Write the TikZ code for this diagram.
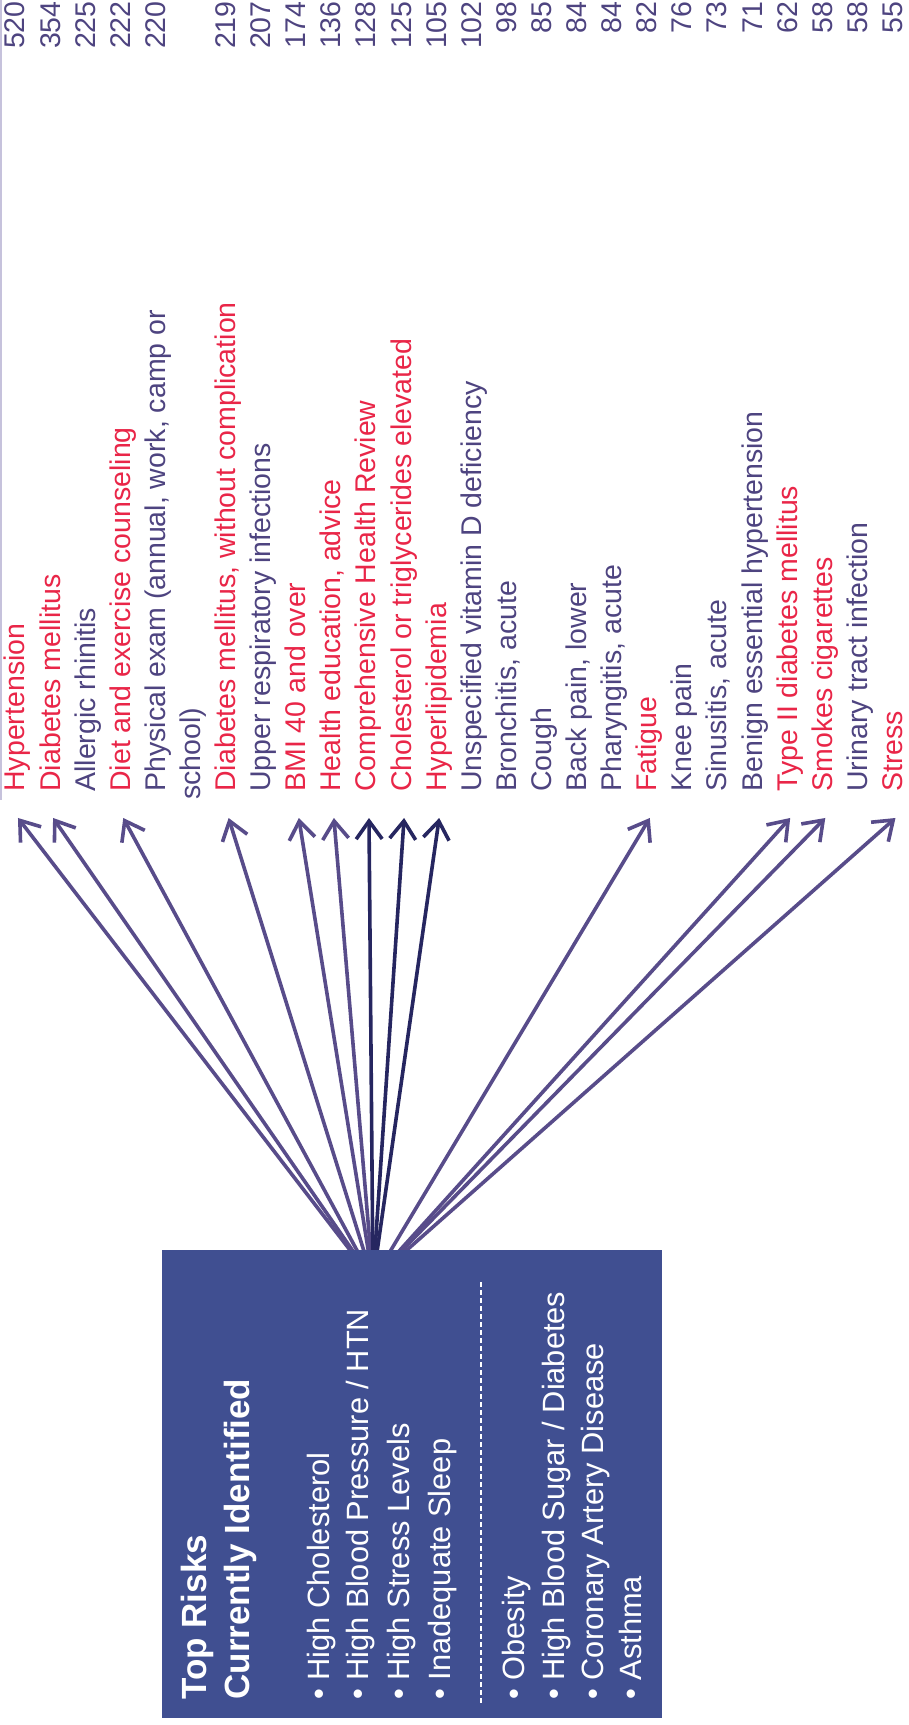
\documentclass[tikz,border=0pt]{standalone}
\usepackage{fontspec}
\setmainfont{Liberation Sans}
\usetikzlibrary{arrows.meta}

\definecolor{riskblue}{RGB}{64,79,145}
\definecolor{arrowpurple}{RGB}{88,76,138}
\definecolor{arrownavy}{RGB}{38,38,96}
\definecolor{hotred}{RGB}{233,38,72}
\definecolor{plainpurple}{RGB}{78,68,128}
\definecolor{edgegrey}{RGB}{198,194,220}

\begin{document}
\begin{tikzpicture}[
        x=0.5pt, y=0.5pt, rotate=90, transform shape,
        >={Straight Barb[length=9pt,width=13pt]},
        diag/.style={anchor=west, inner xsep=13pt, inner ysep=0pt, text height=0.7em, text depth=0pt, text=plainpurple, font=\fontsize{14.25pt}{17pt}\selectfont},
        hotdiag/.style={diag, text=hotred},
        tally/.style={anchor=east, inner sep=0pt, text height=0.7em, text depth=0pt, text=plainpurple, font=\fontsize{14.25pt}{17pt}\selectfont},
        riskbox/.style={rectangle, fill=riskblue, minimum width=234pt, minimum height=250pt, inner sep=0pt},
        boxhead/.style={anchor=base west, inner sep=0pt, text=white, font=\fontsize{17.5pt}{21pt}\selectfont\bfseries},
        boxitem/.style={anchor=base west, inner sep=0pt, text=white, font=\fontsize{15.4pt}{18pt}\selectfont},
        sepline/.style={draw=white, line width=0.6pt, dash pattern=on 2.5pt off 1.5pt},
        arrow/.style={->, line width=1.8pt, draw=arrowpurple},
        darkarrow/.style={arrow, draw=arrownavy}
    ]
    \useasboundingbox (0,0) rectangle (1725,909);
    \draw[edgegrey, line width=0.75pt] (925,908) -- (1725,908);

    % diagnoses, most frequent first
    \node[hotdiag] (hyp) at (907,891) {Hypertension};
    \node[hotdiag] (dm) at (907,855.9) {Diabetes mellitus};
    \node[diag] (rhin) at (907,820.8) {Allergic rhinitis};
    \node[hotdiag] (diet) at (907,785.7) {Diet and exercise counseling};
    \node[diag] (phys) at (907,750.6) {Physical exam (annual, work, camp or};
    \node[diag] (school) at (899,715.5) {school)};
    \node[hotdiag] (dmnc) at (907,680.4) {Diabetes mellitus, without complication};
    \node[diag] (uri) at (907,645.3) {Upper respiratory infections};
    \node[hotdiag] (bmi) at (907,610.2) {BMI 40 and over};
    \node[hotdiag] (hedu) at (907,575.1) {Health education, advice};
    \node[hotdiag] (chr) at (907,540) {Comprehensive Health Review};
    \node[hotdiag] (chol) at (907,504.9) {Cholesterol or triglycerides elevated};
    \node[hotdiag] (lipid) at (907,469.8) {Hyperlipidemia};
    \node[diag] (vitd) at (907,434.7) {Unspecified vitamin D deficiency};
    \node[diag] (bron) at (907,399.6) {Bronchitis, acute};
    \node[diag] (cough) at (907,364.5) {Cough};
    \node[diag] (back) at (907,329.4) {Back pain, lower};
    \node[diag] (phar) at (907,294.3) {Pharyngitis, acute};
    \node[hotdiag] (fatig) at (907,259.2) {Fatigue};
    \node[diag] (knee) at (907,224.1) {Knee pain};
    \node[diag] (sinus) at (907,189) {Sinusitis, acute};
    \node[diag] (benign) at (907,153.9) {Benign essential hypertension};
    \node[hotdiag] (dmtwo) at (907,118.8) {Type II diabetes mellitus};
    \node[hotdiag] (smoke) at (907,83.7) {Smokes cigarettes};
    \node[diag] (uti) at (907,48.6) {Urinary tract infection};
    \node[hotdiag] (stress) at (907,13.5) {Stress};

    % visit counts
    \node[tally] (nhyp) at (1724,891) {520};
    \node[tally] (ndm) at (1724,855.9) {354};
    \node[tally] (nrhin) at (1724,820.8) {225};
    \node[tally] (ndiet) at (1724,785.7) {222};
    \node[tally] (nphys) at (1724,750.6) {220};
    \node[tally] (ndmnc) at (1724,680.4) {219};
    \node[tally] (nuri) at (1724,645.3) {207};
    \node[tally] (nbmi) at (1724,610.2) {174};
    \node[tally] (nhedu) at (1724,575.1) {136};
    \node[tally] (nchr) at (1724,540) {128};
    \node[tally] (nchol) at (1724,504.9) {125};
    \node[tally] (nlipid) at (1724,469.8) {105};
    \node[tally] (nvitd) at (1724,434.7) {102};
    \node[tally] (nbron) at (1724,399.6) {98};
    \node[tally] (ncough) at (1724,364.5) {85};
    \node[tally] (nback) at (1724,329.4) {84};
    \node[tally] (nphar) at (1724,294.3) {84};
    \node[tally] (nfatig) at (1724,259.2) {82};
    \node[tally] (nknee) at (1724,224.1) {76};
    \node[tally] (nsinus) at (1724,189) {73};
    \node[tally] (nbenign) at (1724,153.9) {71};
    \node[tally] (ndmtwo) at (1724,118.8) {62};
    \node[tally] (nsmoke) at (1724,83.7) {58};
    \node[tally] (nuti) at (1724,48.6) {58};
    \node[tally] (nstress) at (1724,13.5) {55};

    \coordinate (hub) at (445,536);
    \draw[arrow] (hub) -- (hyp.west);
    \draw[arrow] (hub) -- (dm.west);
    \draw[arrow] (hub) -- (diet.west);
    \draw[arrow] (hub) -- (dmnc.west);
    \draw[arrow] (hub) -- (bmi.west);
    \draw[arrow] (hub) -- (hedu.west);
    \draw[darkarrow] (hub) -- (chr.west);
    \draw[darkarrow] (hub) -- (chol.west);
    \draw[darkarrow] (hub) -- (lipid.west);
    \draw[arrow] (hub) -- (fatig.west);
    \draw[arrow] (hub) -- (dmtwo.west);
    \draw[arrow] (hub) -- (smoke.west);
    \draw[arrow] (hub) -- (stress.west);

    % risk box
    \node[riskbox] (box) at (241,497) {};
    \node[boxhead] (head) at (25,702) {Top Risks};
    \node[boxhead] (subhead) at (25,659) {Currently Identified};
    \node[boxitem] (chl) at (25,579) {\textbullet\ High Cholesterol};
    \node[boxitem] (bp) at (25,540) {\textbullet\ High Blood Pressure / HTN};
    \node[boxitem] (strs) at (25,499) {\textbullet\ High Stress Levels};
    \node[boxitem] (sleep) at (25,458) {\textbullet\ Inadequate Sleep};
    \draw[sepline] (22,428) -- (445,428);
    \node[boxitem] (obes) at (25,384) {\textbullet\ Obesity};
    \node[boxitem] (sugar) at (25,344) {\textbullet\ High Blood Sugar / Diabetes};
    \node[boxitem] (cad) at (25,305) {\textbullet\ Coronary Artery Disease};
    \node[boxitem] (asth) at (25,267) {\textbullet\ Asthma};
\end{tikzpicture}
\end{document}
